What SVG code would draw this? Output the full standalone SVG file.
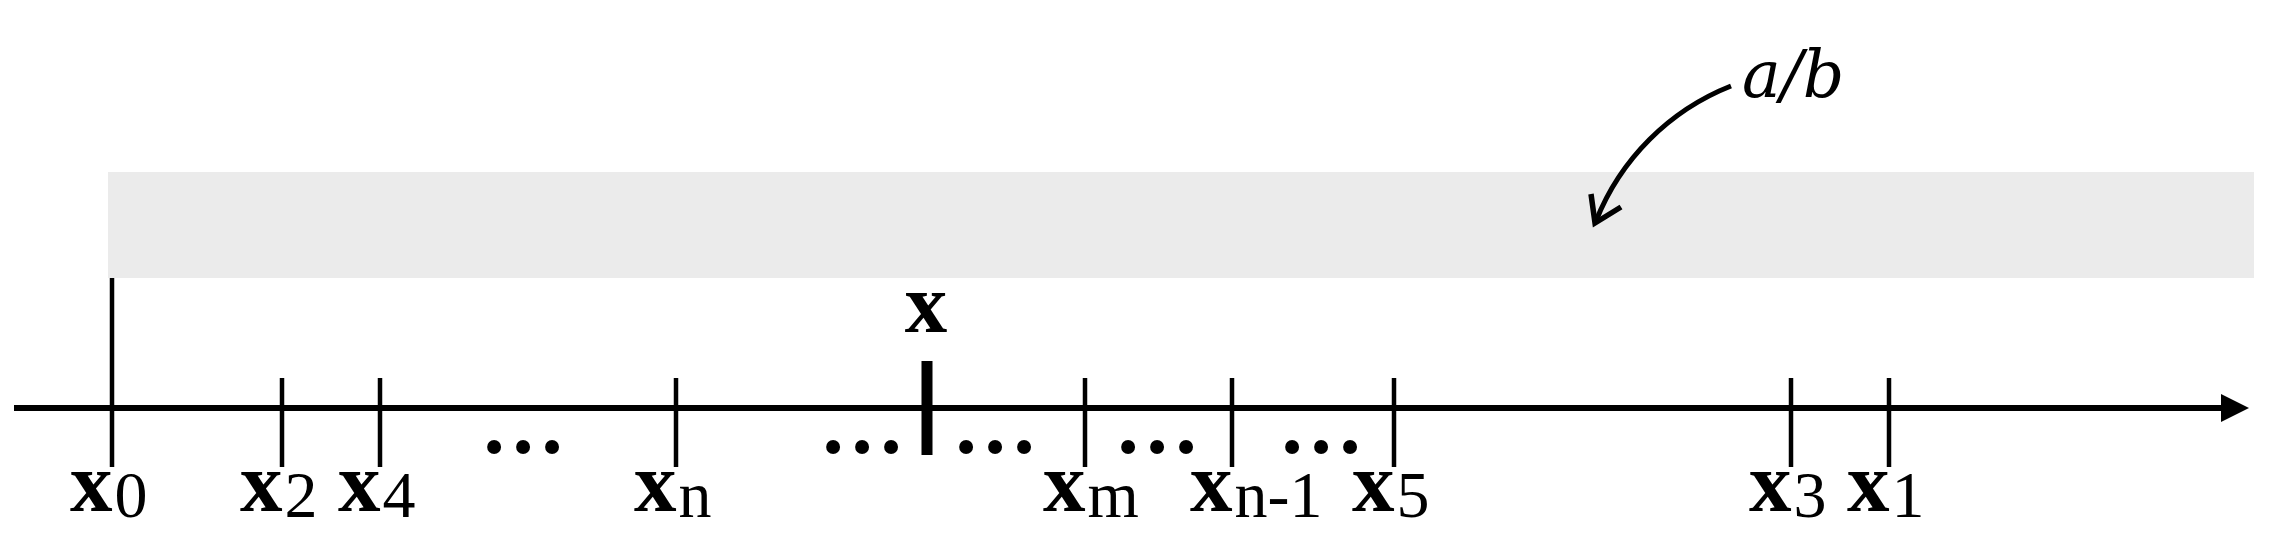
<svg xmlns="http://www.w3.org/2000/svg" width="2279" height="551" viewBox="0 0 2279 551">
<style>
.tick{stroke:#000;stroke-width:4.5;fill:none}
.lbl{font-family:"Liberation Serif","Times New Roman",serif;fill:#000}
.xb{font-weight:bold;font-size:85px}
.sub{font-weight:normal;font-size:66px}
.dots{font-family:"Liberation Serif","Times New Roman",serif;font-weight:bold;font-size:86px;fill:#000;text-anchor:middle}
.ab{font-family:"DejaVu Serif",serif;font-style:italic;font-size:65px;fill:#000}
</style>
<defs>
<marker id="axisHead" markerWidth="28" markerHeight="28" refX="0" refY="14" orient="auto" markerUnits="userSpaceOnUse">
<path d="M0,0 L28,14 L0,28 Z" fill="#000"/>
</marker>
</defs>
<rect width="2279" height="551" fill="#fff"/>
<rect id="band" x="108" y="172" width="2146" height="106" fill="#ebebeb"/>
<g id="connectors">
<line x1="14" y1="408" x2="2221" y2="408" stroke="#000" stroke-width="6" marker-end="url(#axisHead)"/>
<path d="M1731,86 A240,240 0 0 0 1596,221" stroke="#000" stroke-width="5" fill="none"/>
<path d="M1591,194 L1595,223 L1621,207" stroke="#000" stroke-width="5.5" fill="none" stroke-linejoin="miter"/>
</g>
<g id="label-ab"><text class="ab" x="1742" y="97">a/b</text></g>
<g id="node-x0"><line class="tick" x1="112" y1="278" x2="112" y2="467"/><text class="lbl" x="70" y="511"><tspan class="xb">x</tspan><tspan class="sub" dx="2" dy="6">0</tspan></text></g>
<g id="node-x2"><line class="tick" x1="282" y1="378" x2="282" y2="467"/><text class="lbl" x="240" y="511"><tspan class="xb">x</tspan><tspan class="sub" dx="2" dy="6">2</tspan></text></g>
<g id="node-x4"><line class="tick" x1="380" y1="378" x2="380" y2="467"/><text class="lbl" x="338" y="511"><tspan class="xb">x</tspan><tspan class="sub" dx="2" dy="6">4</tspan></text></g>
<g id="node-xn"><line class="tick" x1="676" y1="378" x2="676" y2="467"/><text class="lbl" x="634" y="511"><tspan class="xb">x</tspan><tspan class="sub" dx="2" dy="6">n</tspan></text></g>
<g id="node-x"><rect x="921.5" y="361" width="11" height="94" fill="#000"/><text class="lbl xb" x="926" y="332" text-anchor="middle">x</text></g>
<g id="node-xm"><line class="tick" x1="1085" y1="378" x2="1085" y2="467"/><text class="lbl" x="1043" y="511"><tspan class="xb">x</tspan><tspan class="sub" dx="2" dy="6">m</tspan></text></g>
<g id="node-xn-1"><line class="tick" x1="1232" y1="378" x2="1232" y2="467"/><text class="lbl" x="1190" y="511"><tspan class="xb">x</tspan><tspan class="sub" dx="2" dy="6">n-1</tspan></text></g>
<g id="node-x5"><line class="tick" x1="1394" y1="378" x2="1394" y2="467"/><text class="lbl" x="1352" y="511"><tspan class="xb">x</tspan><tspan class="sub" dx="2" dy="6">5</tspan></text></g>
<g id="node-x3"><line class="tick" x1="1791" y1="378" x2="1791" y2="467"/><text class="lbl" x="1749" y="511"><tspan class="xb">x</tspan><tspan class="sub" dx="2" dy="6">3</tspan></text></g>
<g id="node-x1"><line class="tick" x1="1889" y1="378" x2="1889" y2="467"/><text class="lbl" x="1847" y="511"><tspan class="xb">x</tspan><tspan class="sub" dx="2" dy="6">1</tspan></text></g>
<g id="ellipses">
<text class="dots" x="523" y="453">…</text>
<text class="dots" x="862" y="453">…</text>
<text class="dots" x="995" y="453">…</text>
<text class="dots" x="1157" y="453">…</text>
<text class="dots" x="1321" y="453">…</text>
</g>
</svg>
